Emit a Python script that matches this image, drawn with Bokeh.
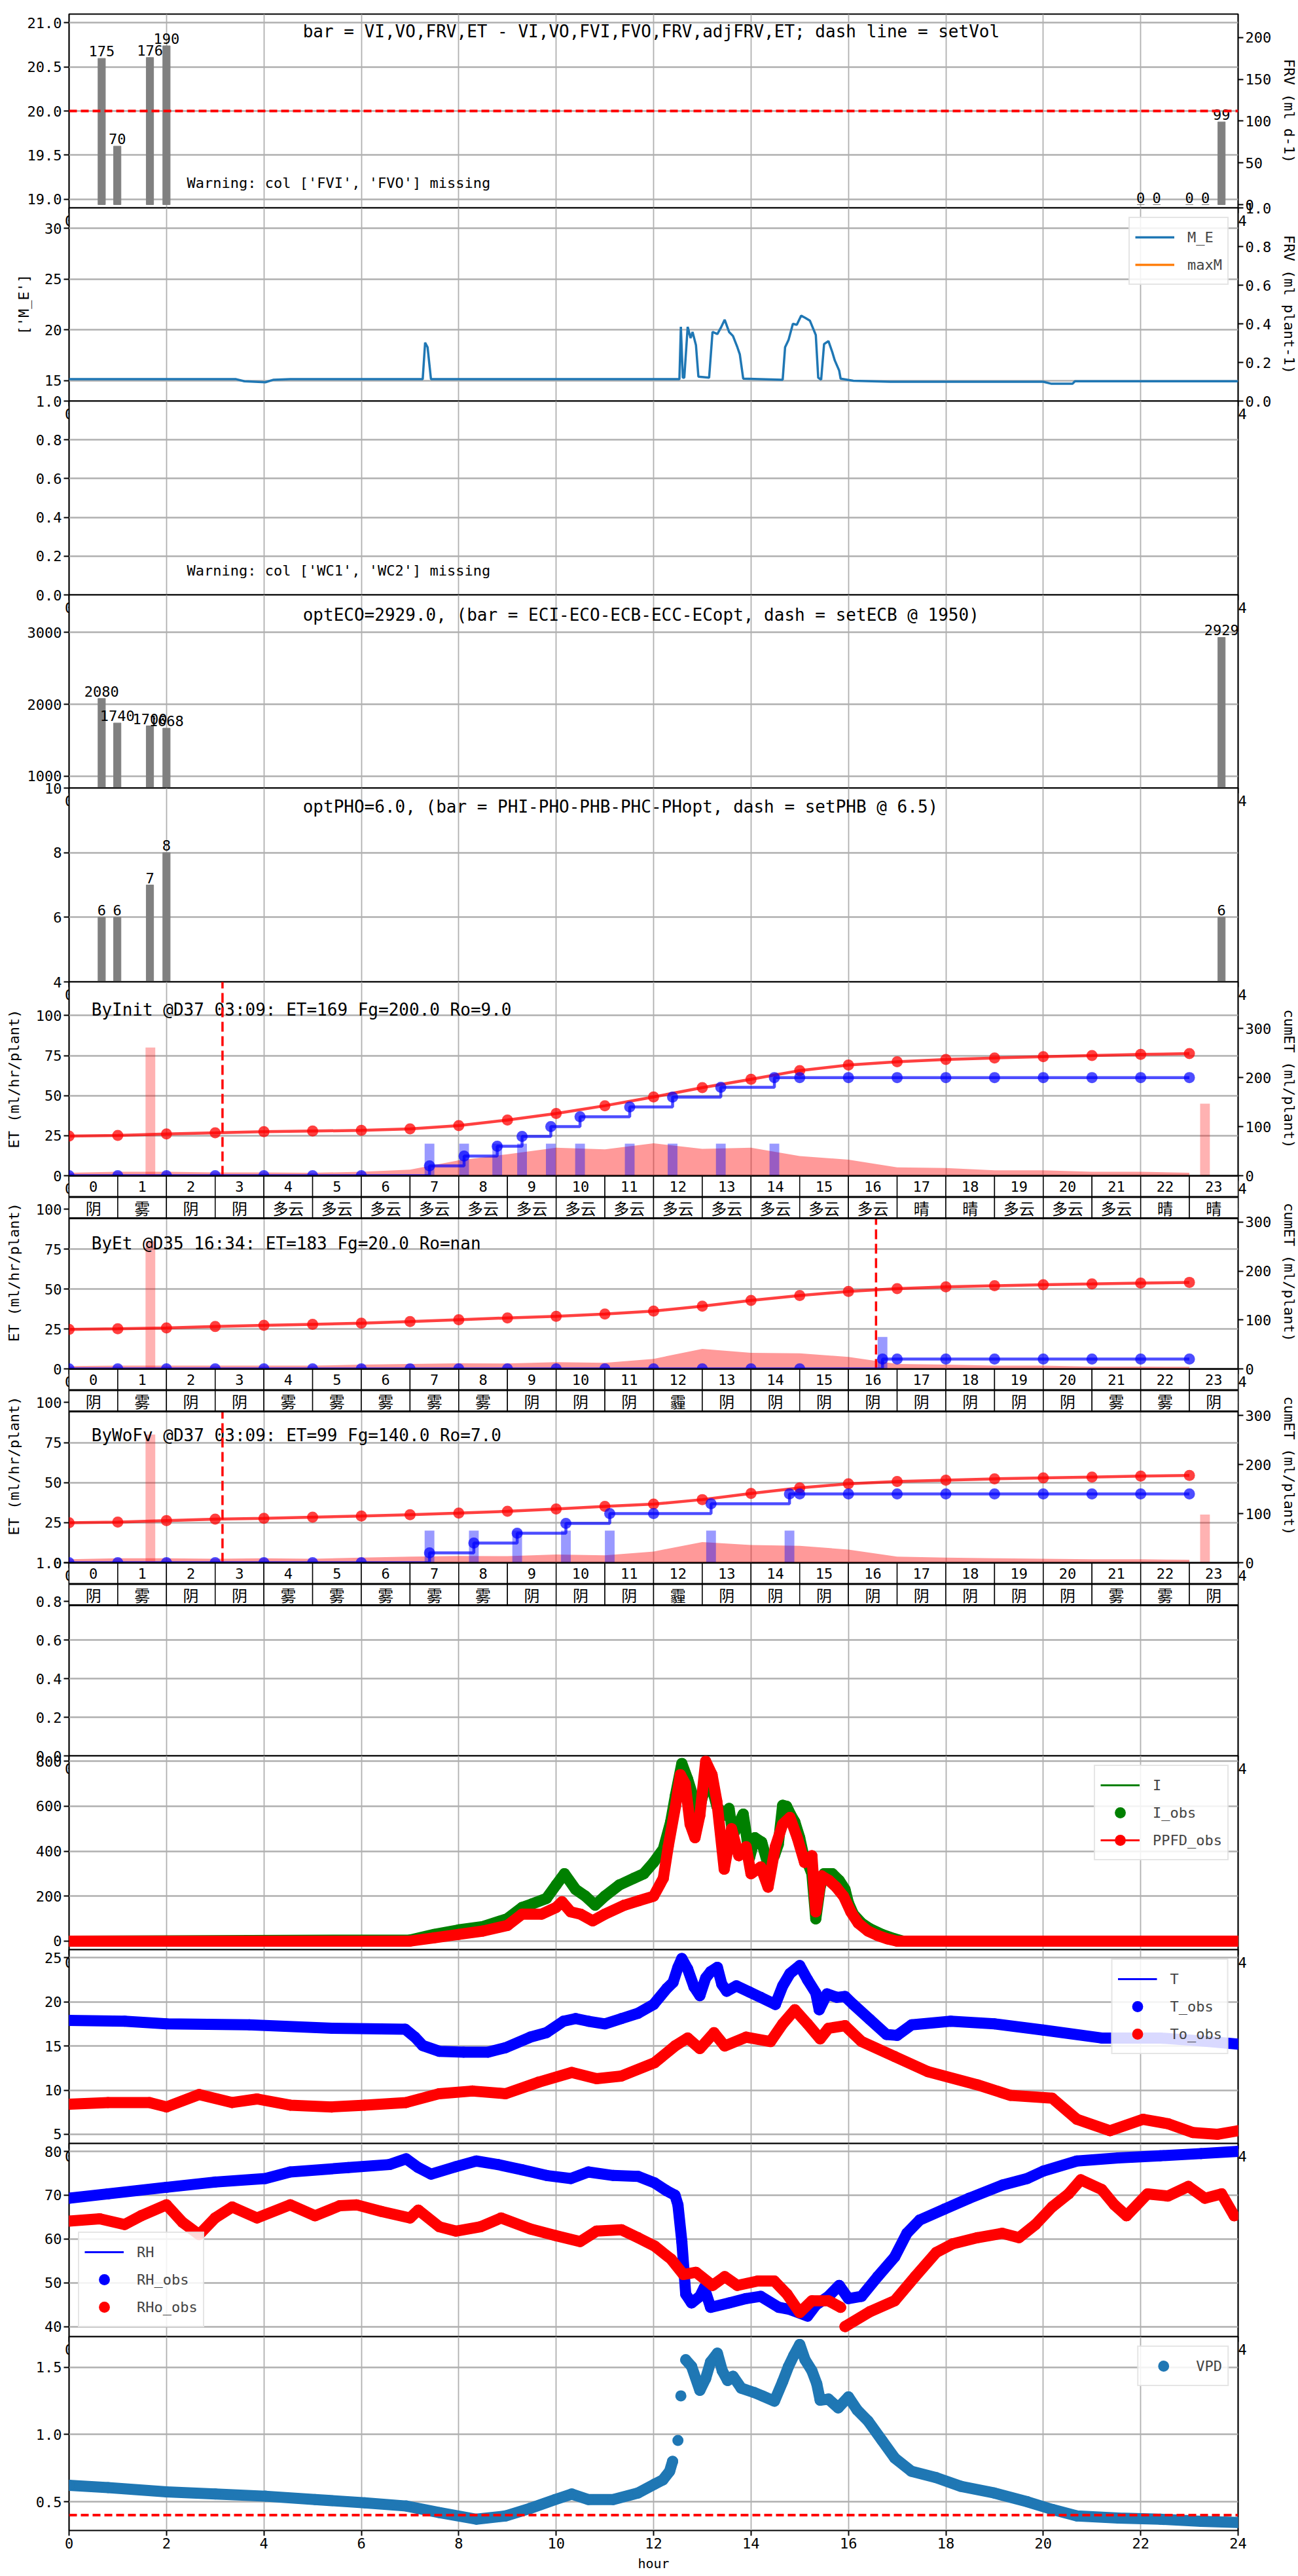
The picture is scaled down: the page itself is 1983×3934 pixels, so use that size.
import math
from bokeh.plotting import figure
from bokeh.models import (Range1d, LinearAxis, FixedTicker, Span, Legend, LegendItem,
                          PrintfTickFormatter)
from bokeh.layouts import column
from bokeh.embed import file_html
from bokeh.resources import INLINE
from bokeh.core.properties import value

NAN = float("nan")
MONO = "DejaVu Sans Mono"
CJK = "Noto Sans CJK SC"
TICK_FS = "22px"
NOTE_FS = "26px"

# ------------------------------------------------------------------ data
HOURS = list(range(24))

# panel 0 : FRV bars
FRV_T = [0.67, 0.99, 1.66, 2.0, 22.0, 22.33, 23.0, 23.33, 23.66]
FRV_VAL = [175, 70, 176, 190, 0, 0, 0, 0, 99]
SET_VOL = 20.0
TITLE_FRV = "bar = VI,VO,FRV,ET - VI,VO,FVI,FVO,FRV,adjFRV,ET; dash line = setVol"
WARN_FRV = "Warning: col ['FVI', 'FVO'] missing"

# panel 1 : M_E
ME_POINTS = [(0, 15.15), (3.43, 15.15), (3.6, 14.95), (4.03, 14.85), (4.2, 15.1), (4.54, 15.15),
             (7.26, 15.15), (7.31, 18.75), (7.36, 18.3), (7.43, 15.15), (12.53, 15.15),
             (12.56, 20.3), (12.6, 15.3), (12.63, 15.3), (12.7, 20.3), (12.76, 19.2),
             (12.8, 19.8), (12.87, 18.5), (12.92, 15.4), (13.14, 15.3), (13.21, 19.8),
             (13.31, 19.6), (13.38, 20.2), (13.46, 21.0), (13.55, 19.8), (13.63, 19.4),
             (13.72, 18.3), (13.77, 17.6), (13.84, 15.2), (14.65, 15.1), (14.7, 18.3),
             (14.77, 19.0), (14.86, 20.6), (14.94, 20.5), (15.03, 21.4), (15.11, 21.2),
             (15.21, 20.9), (15.33, 19.5), (15.38, 15.3), (15.44, 15.1), (15.5, 18.6),
             (15.59, 18.9), (15.67, 17.8), (15.72, 17.0), (15.81, 16.0), (15.84, 15.2),
             (16.1, 15.0), (16.86, 14.9), (20.0, 14.9), (20.17, 14.7), (20.6, 14.7),
             (20.65, 14.95), (24.0, 14.95)]
MAXM_POINTS = [(0, NAN), (24, NAN)]

# panel 2 : WC
WARN_WC = "Warning: col ['WC1', 'WC2'] missing"

# panel 3 : EC
EC_T = [0.67, 0.99, 1.66, 2.0, 23.66]
EC_VAL = [2080, 1740, 1700, 1668, 2929]
TITLE_EC = "optECO=2929.0, (bar = ECI-ECO-ECB-ECC-ECopt, dash = setECB @ 1950)"

# panel 4 : PH
PH_T = [0.67, 0.99, 1.66, 2.0, 23.66]
PH_VAL = [6, 6, 7, 8, 6]
TITLE_PH = "optPHO=6.0, (bar = PHI-PHO-PHB-PHC-PHopt, dash = setPHB @ 6.5)"

# panels 5-7 : ET simulations
IRR_VOL = 20
NOTE_INIT = "ByInit @D37 03:09: ET=169 Fg=200.0 Ro=9.0"
CUT_INIT = 3.15
ET_INIT = [1.8, 2.5, 2.5, 2.0, 2.0, 1.8, 2.5, 3.8, 9.6, 13.4, 17.5, 16.5, 20.2, 16.8, 17.5,
           12.3, 10.0, 5.2, 4.8, 3.4, 3.4, 2.5, 2.5, 1.8]
CUM_INIT = [80.7, 82.1, 85.2, 87.4, 89.7, 91.0, 92.4, 95.5, 102.2, 113.5, 126.9, 142.6,
            160.5, 179.4, 196.4, 214.3, 225.6, 232.3, 236.8, 239.9, 242.6, 244.8, 247.1, 248.9]
IRR_INIT = [7.40, 8.11, 8.79, 9.30, 9.89, 10.49, 11.51, 12.39, 13.38, 14.48]
FG_INIT_T = [1.67, 23.32]
FG_INIT_V = [80, 45]
W_INIT = ["阴", "雾", "阴", "阴", "多云", "多云", "多云", "多云", "多云", "多云", "多云", "多云",
          "多云", "多云", "多云", "多云", "多云", "晴", "晴", "多云", "多云", "多云", "晴", "晴"]

NOTE_ET = "ByEt @D35 16:34: ET=183 Fg=20.0 Ro=nan"
CUT_ET = 16.567
ET_ET = [1.7, 2.1, 2.1, 2.0, 2.1, 2.0, 2.7, 3.1, 3.5, 3.4, 4.2, 3.8, 6.3, 12.5, 10.1, 9.7,
         7.5, 3.1, 2.7, 2.1, 2.0, 1.4, 1.4, 1.3]
CUM_ET = [80.6, 81.9, 83.8, 86.6, 88.9, 91.2, 93.5, 96.8, 100.5, 104.2, 107.4, 112.0, 118.1,
          128.2, 139.8, 150.0, 158.3, 163.9, 167.6, 169.9, 172.2, 173.6, 175.5, 176.9]
IRR_ET = [16.70]
FG_ET_T = [1.67]
FG_ET_V = [80]
W_ET = ["阴", "雾", "阴", "阴", "雾", "雾", "雾", "雾", "雾", "阴", "阴", "阴",
        "霾", "阴", "阴", "阴", "阴", "阴", "阴", "阴", "阴", "雾", "雾", "阴"]

NOTE_WOFV = "ByWoFv @D37 03:09: ET=99 Fg=140.0 Ro=7.0"
CUT_WOFV = 3.15
ET_WOFV = [2.1, 2.8, 2.8, 2.5, 2.8, 2.5, 3.2, 3.8, 4.2, 4.1, 5.1, 4.6, 7.0, 12.9, 11.0, 10.5,
           8.2, 3.8, 3.2, 2.8, 2.5, 2.1, 2.1, 1.8]
CUM_WOFV = [81.3, 82.7, 85.9, 88.7, 90.5, 92.8, 95.1, 97.8, 101.1, 104.7, 109.3, 114.8, 119.4,
            128.6, 141.0, 152.5, 160.8, 165.4, 168.1, 170.9, 172.7, 174.6, 176.4, 177.8]
IRR_WOFV = [7.40, 8.31, 9.20, 10.20, 11.10, 13.18, 14.79]
FG_WOFV_T = [1.67, 23.32]
FG_WOFV_V = [80, 30]
W_WOFV = ["阴", "雾", "阴", "阴", "雾", "雾", "雾", "雾", "雾", "阴", "阴", "阴",
          "霾", "阴", "阴", "阴", "阴", "阴", "阴", "阴", "阴", "雾", "雾", "阴"]

# panel 9 : light
I_OBS = [(0, 0), (7.0, 5), (7.5, 30), (8.0, 50), (8.5, 65), (9.0, 100), (9.3, 150), (9.5, 165),
         (9.8, 190), (10.0, 250), (10.17, 300), (10.4, 230), (10.6, 200), (10.8, 160),
         (11.0, 200), (11.3, 250), (11.6, 280), (11.8, 300), (12.0, 350), (12.2, 410),
         (12.35, 530), (12.45, 650), (12.58, 790), (12.7, 720), (12.8, 650), (12.9, 550),
         (13.0, 640), (13.1, 700), (13.2, 680), (13.3, 600), (13.45, 560), (13.55, 590),
         (13.63, 470), (13.72, 510), (13.84, 565), (13.92, 450), (13.97, 371), (14.08, 460),
         (14.22, 440), (14.35, 340), (14.48, 380), (14.56, 430), (14.65, 604), (14.73, 600),
         (14.82, 560), (14.9, 530), (15.0, 460), (15.08, 380), (15.16, 350), (15.25, 300),
         (15.33, 99), (15.42, 240), (15.5, 300), (15.67, 300), (15.81, 270), (15.93, 230),
         (16.0, 170), (16.1, 120), (16.27, 80), (16.44, 55), (16.69, 30), (16.95, 10),
         (17.12, 0), (24.0, 0)]
PPFD_OBS = [(0, 0), (7.0, 0), (7.5, 15), (8.0, 30), (8.5, 45), (9.0, 70), (9.3, 120),
            (9.7, 120), (10.0, 150), (10.12, 175), (10.3, 130), (10.5, 120), (10.75, 90),
            (11.0, 120), (11.4, 160), (11.7, 180), (12.0, 200), (12.2, 280), (12.3, 420),
            (12.45, 600), (12.55, 740), (12.65, 700), (12.75, 520), (12.85, 460),
            (12.95, 560), (13.07, 800), (13.2, 740), (13.3, 620), (13.45, 320), (13.6, 500),
            (13.75, 380), (13.9, 420), (14.0, 300), (14.2, 330), (14.35, 240), (14.5, 420),
            (14.65, 520), (14.8, 550), (14.95, 460), (15.1, 350), (15.25, 380), (15.33, 130),
            (15.45, 290), (15.6, 270), (15.75, 240), (15.9, 200), (16.05, 130), (16.2, 80),
            (16.4, 45), (16.6, 25), (16.8, 10), (17.0, 0), (24.0, 0)]

# panel 10 : temperature
T_OBS = [(0, 17.9), (1.14, 17.8), (2.0, 17.5), (3.7, 17.4), (5.4, 17.0), (6.9, 16.9),
         (7.1, 16.0), (7.26, 15.05), (7.6, 14.4), (8.1, 14.3), (8.6, 14.3), (8.96, 14.8),
         (9.47, 16.0), (9.8, 16.5), (10.15, 17.8), (10.4, 18.1), (10.66, 17.8), (11.0, 17.5),
         (11.34, 18.1), (11.68, 18.7), (12.0, 19.7), (12.27, 21.5), (12.4, 22.2), (12.5, 23.9),
         (12.58, 24.9), (12.7, 23.7), (12.83, 21.7), (12.95, 20.7), (13.07, 22.7),
         (13.17, 23.4), (13.31, 23.9), (13.4, 22.0), (13.5, 21.2), (13.7, 21.8),
         (13.97, 21.1), (14.2, 20.5), (14.5, 19.7), (14.65, 21.8), (14.8, 23.2), (15.0, 24.1),
         (15.16, 22.5), (15.33, 21.0), (15.4, 19.1), (15.56, 20.9), (15.76, 20.5),
         (15.93, 20.6), (16.1, 19.7), (16.44, 18.0), (16.78, 16.3), (17.0, 16.2),
         (17.3, 17.4), (18.1, 17.8), (19.0, 17.5), (20.0, 16.8), (21.2, 15.9), (22.4, 15.9),
         (23.4, 15.5), (24.0, 15.2)]
TO_OBS = [(0, 8.4), (0.8, 8.6), (1.65, 8.6), (2.0, 8.1), (2.67, 9.5), (3.35, 8.6), (3.86, 9.0),
          (4.54, 8.3), (5.39, 8.1), (6.07, 8.3), (6.92, 8.6), (7.6, 9.6), (8.28, 9.9),
          (8.96, 9.6), (9.64, 10.9), (10.32, 12.0), (10.83, 11.3), (11.34, 11.6),
          (12.02, 13.1), (12.44, 15.0), (12.7, 15.9), (12.95, 14.7), (13.24, 16.5),
          (13.46, 15.0), (13.9, 16.0), (14.4, 15.5), (14.65, 17.5), (14.9, 19.1),
          (15.16, 17.5), (15.42, 15.8), (15.59, 17.0), (15.93, 17.3), (16.27, 15.5),
          (16.95, 13.8), (17.63, 12.1), (18.65, 10.6), (19.33, 9.4), (20.18, 9.1),
          (20.69, 6.7), (21.37, 5.4), (22.05, 6.7), (22.56, 6.2), (23.07, 5.2), (23.58, 5.0),
          (24.0, 5.4)]

# panel 11 : humidity
RH_OBS = [(0, 69.3), (0.8, 70.3), (2.0, 71.8), (3.0, 73.0), (4.03, 73.8), (4.54, 75.3),
          (5.73, 76.3), (6.58, 77.0), (6.92, 78.3), (7.17, 76.3), (7.43, 74.8), (7.94, 76.5),
          (8.36, 77.8), (8.8, 77.0), (9.3, 75.8), (9.8, 74.5), (10.3, 73.8), (10.66, 75.3),
          (11.17, 74.5), (11.68, 74.3), (12.02, 72.8), (12.27, 71.0), (12.44, 70.0),
          (12.5, 67.8), (12.58, 59.4), (12.66, 47.4), (12.78, 45.4), (12.95, 46.9),
          (13.04, 48.9), (13.17, 44.4), (13.55, 45.4), (13.9, 46.4), (14.2, 46.9),
          (14.57, 44.4), (14.8, 43.9), (15.16, 42.4), (15.33, 44.9), (15.59, 46.9),
          (15.81, 49.4), (16.0, 46.4), (16.27, 46.9), (16.6, 51.4), (16.95, 55.9),
          (17.2, 61.3), (17.46, 64.3), (17.97, 66.8), (18.48, 69.3), (19.16, 72.3),
          (19.67, 73.8), (20.0, 75.5), (20.69, 77.8), (21.54, 78.5), (22.4, 79.0),
          (23.24, 79.5), (24.0, 80.0)]
RHO_OBS = [(0, 64.1), (0.63, 64.6), (1.14, 63.3), (1.48, 65.3), (2.0, 67.8), (2.33, 63.8),
           (2.67, 61.0), (3.0, 64.8), (3.35, 67.3), (3.86, 64.8), (4.54, 67.8), (5.05, 65.3),
           (5.56, 67.6), (5.9, 67.8), (6.41, 66.3), (7.0, 64.8), (7.17, 66.6), (7.6, 62.8),
           (7.94, 61.8), (8.45, 62.8), (8.87, 64.8), (9.47, 62.3), (9.98, 60.8),
           (10.49, 59.4), (10.83, 61.8), (11.34, 62.1), (11.68, 60.3), (12.02, 58.4),
           (12.36, 55.4), (12.61, 51.9), (12.87, 52.4), (13.21, 49.4), (13.46, 51.4),
           (13.72, 49.4), (14.14, 50.4), (14.48, 50.4), (14.74, 47.4), (15.0, 43.2),
           (15.25, 45.9), (15.59, 45.9), (15.84, 44.4), (15.88, NAN), (15.93, 40.0),
           (16.44, 43.4), (16.95, 45.9), (17.37, 51.4), (17.8, 56.9), (18.14, 58.9),
           (18.65, 60.3), (19.16, 61.3), (19.5, 60.3), (19.84, 63.3), (20.18, 67.3),
           (20.52, 70.3), (20.77, 73.5), (21.2, 71.3), (21.46, 67.8), (21.71, 65.3),
           (22.14, 70.3), (22.56, 69.8), (22.98, 72.0), (23.32, 69.3), (23.66, 70.3),
           (23.92, 65.3)]

# panel 12 : VPD
VPD_MIN = 0.4
VPD_OBS = [(0, 0.622), (0.8, 0.605), (2.0, 0.573), (3.0, 0.557), (4.03, 0.541), (5.05, 0.516),
           (6.07, 0.492), (6.92, 0.468), (7.6, 0.419), (8.36, 0.370), (8.96, 0.394),
           (9.47, 0.451), (9.98, 0.516), (10.32, 0.557), (10.66, 0.516), (11.17, 0.516),
           (11.68, 0.565), (12.02, 0.630), (12.19, 0.662), (12.33, 0.727), (12.39, 0.800),
           (12.45, NAN), (12.5, 0.955), (12.53, NAN), (12.56, 1.287), (12.6, NAN),
           (12.66, 1.555), (12.78, 1.506), (12.95, 1.328), (13.07, 1.417), (13.17, 1.539),
           (13.31, 1.604), (13.41, 1.474), (13.52, 1.401), (13.63, 1.433), (13.8, 1.344),
           (14.06, 1.312), (14.23, 1.287), (14.48, 1.247), (14.65, 1.393), (14.77, 1.506),
           (14.88, 1.588), (15.0, 1.669), (15.11, 1.555), (15.25, 1.474), (15.35, 1.377),
           (15.42, 1.255), (15.59, 1.263), (15.79, 1.198), (16.0, 1.279), (16.18, 1.182),
           (16.4, 1.101), (16.69, 0.955), (16.95, 0.825), (17.29, 0.727), (17.8, 0.679),
           (18.31, 0.614), (18.99, 0.565), (19.67, 0.500), (20.18, 0.443), (20.69, 0.394),
           (21.54, 0.378), (22.4, 0.370), (23.24, 0.354), (24.0, 0.346)]

X_TICKS = list(range(0, 25, 2))

# ------------------------------------------------------------------ layout
FW = 1786
FH = [296, 295, 296, 295, 296, 296, 295, 296, 295, 296, 296, 295, 296]
BL, BR, BT, BB = 105, 92, 40, 70
FIRST_TOP = 21
ROW_H = 32.5


def xy(points):
    return [a for a, _ in points], [b for _, b in points]


def style_axis(ax):
    ax.axis_line_color = None
    ax.major_tick_out = 8
    ax.major_tick_in = 0
    ax.major_tick_line_color = "black"
    ax.major_tick_line_width = 2
    ax.minor_tick_line_color = None
    ax.major_label_text_font = MONO
    ax.major_label_text_font_size = TICK_FS
    ax.major_label_text_color = "black"
    ax.major_label_standoff = 3
    ax.axis_label_text_font = MONO
    ax.axis_label_text_font_size = TICK_FS
    ax.axis_label_text_font_style = "normal"
    ax.axis_label_text_color = "black"


def base(k, y0, y1, yticks, fmt, ylabel=None, standoff=16):
    last = k == len(FH) - 1
    p = figure(frame_width=FW, frame_height=FH[k], x_range=Range1d(0, 24),
               y_range=Range1d(y0, y1), output_backend="svg", toolbar_location=None,
               min_border_left=BL, min_border_right=BR,
               min_border_top=FIRST_TOP if k == 0 else BT,
               min_border_bottom=BB,
               margin=(0, 0, 0, 0) if k == 0 else (-(BB + BT), 0, 0, 0))
    p.border_fill_color = None
    p.background_fill_color = "white"
    p.outline_line_color = "black"
    p.outline_line_width = 2.2
    xa = p.xaxis[0]
    ya = p.yaxis[0]
    xa.ticker = FixedTicker(ticks=X_TICKS)
    ya.ticker = FixedTicker(ticks=yticks)
    xa.formatter = PrintfTickFormatter(format="%d")
    ya.formatter = PrintfTickFormatter(format=fmt)
    style_axis(xa)
    style_axis(ya)
    if ylabel:
        ya.axis_label = ylabel
        ya.axis_label_standoff = standoff
    if last:
        xa.axis_label = "hour"
        xa.axis_label_standoff = 8
        xa.axis_label_text_font_size = "20px"
    p.xgrid.ticker = FixedTicker(ticks=X_TICKS)
    p.ygrid.ticker = FixedTicker(ticks=yticks)
    p.xgrid.grid_line_color = "#b0b0b0"
    p.xgrid.grid_line_width = 1.8
    p.ygrid.grid_line_color = "#b0b0b0"
    p.ygrid.grid_line_width = 2.4
    return p


def add_right(p, y0, y1, ticks, fmt, label):
    rngs = dict(p.extra_y_ranges)
    rngs["r"] = Range1d(y0, y1)
    p.extra_y_ranges = rngs
    ax = LinearAxis(y_range_name="r", ticker=FixedTicker(ticks=ticks),
                    formatter=PrintfTickFormatter(format=fmt), axis_label=label)
    style_axis(ax)
    ax.axis_label_standoff = 12
    p.add_layout(ax, "right")


def note(p, x, y, txt, size=NOTE_FS, rng="default"):
    p.text(x=[x], y=[y], text=[txt], text_font=value(MONO), text_font_size=size,
           text_align="left", text_baseline="middle", text_color="black", y_range_name=rng)


def bar_labels(p, xs, vals, rng="default"):
    p.text(x=xs, y=vals, text=[str(v) for v in vals], text_font=value(MONO),
           text_font_size=TICK_FS, text_align="center", text_baseline="bottom",
           y_offset=-3, text_color="black", y_range_name=rng)


def make_legend(p, items, loc):
    lg = Legend(items=items, location=loc)
    lg.label_text_font = MONO
    lg.label_text_font_size = TICK_FS
    lg.border_line_color = "#cccccc"
    lg.border_line_width = 2
    lg.background_fill_color = "white"
    lg.background_fill_alpha = 0.85
    lg.glyph_width = 60
    lg.glyph_height = 42
    lg.label_height = 28
    lg.spacing = -6
    lg.padding = 8
    lg.margin = 14
    lg.label_standoff = 20
    p.add_layout(lg)


def add_table(p, k, weather):
    rngs = dict(p.extra_y_ranges)
    rngs["tbl"] = Range1d(FH[k], 0)
    p.extra_y_ranges = rngs
    left = HOURS
    right = [h + 1 for h in HOURS]
    n = len(HOURS)
    p.quad(left=left, right=right, top=[0] * n, bottom=[ROW_H] * n, y_range_name="tbl",
           fill_color="white", line_color="black", line_width=1.5)
    p.quad(left=left, right=right, top=[ROW_H] * n, bottom=[2 * ROW_H] * n, y_range_name="tbl",
           fill_color="white", line_color="black", line_width=1.5)
    p.segment(x0=[0, 0, 0], x1=[24, 24, 24], y0=[0, ROW_H, 2 * ROW_H],
              y1=[0, ROW_H, 2 * ROW_H], y_range_name="tbl", line_color="black", line_width=3)
    mid = [h + 0.5 for h in HOURS]
    p.text(x=mid, y=[ROW_H / 2] * n, text=[str(h) for h in HOURS], y_range_name="tbl",
           text_align="center", text_baseline="middle", text_font=value(MONO),
           text_font_size=TICK_FS, text_color="black")
    p.text(x=mid, y=[ROW_H * 1.5] * n, text=weather, y_range_name="tbl",
           text_align="center", text_baseline="middle", text_font=value(CJK),
           text_font_size="24px", text_color="black")


def cum_points(events):
    ev_hours = {int(e) for e in events}
    pts = sorted([float(h) for h in HOURS if h not in ev_hours] + list(events))
    ys = [IRR_VOL * sum(1 for e in events if e <= t + 1e-9) for t in pts]
    return pts, ys


def et_panel(k, note_txt, cut, et, cum, irr, fg_t, fg_v, note_y):
    p = base(k, 0, 121, [0, 25, 50, 75, 100], "%d", "ET (ml/hr/plant)", 18)
    add_right(p, 0, 395, [0, 100, 200, 300], "%d", "cumET (ml/plant)")
    p.vbar(x=fg_t, top=fg_v, bottom=0, width=0.2, fill_color="#ff0000", fill_alpha=0.3,
           line_color=None)
    p.varea(x=HOURS, y1=[0] * len(HOURS), y2=et, fill_color="#ff0000", fill_alpha=0.4)
    p.vbar(x=irr, top=[IRR_VOL] * len(irr), bottom=0, width=0.2, fill_color="#0000ff",
           fill_alpha=0.4, line_color=None)
    note(p, 0.46, note_y, note_txt)
    p.segment(x0=[cut], x1=[cut], y0=[p.y_range.start], y1=[p.y_range.end],
              line_color="#ff0000", line_width=3.5, line_dash="15 7")
    p.line(x=HOURS, y=cum, y_range_name="r", line_color="#ff0000", line_alpha=0.75,
           line_width=4.5)
    p.scatter(x=HOURS, y=cum, y_range_name="r", size=17, fill_color="#ff0000",
              fill_alpha=0.75, line_color=None)
    bx, by = cum_points(irr)
    p.step(x=bx, y=by, mode="after", y_range_name="r", line_color="#0000ff", line_alpha=0.7,
           line_width=4.5)
    p.scatter(x=bx, y=by, y_range_name="r", size=17, fill_color="#0000ff", fill_alpha=0.7,
              line_color=None)
    return p


figs = []

# ---- panel 0
p0 = base(0, 18.9, 21.1, [19.0, 19.5, 20.0, 20.5, 21.0], "%.1f")
add_right(p0, -3.9, 228, [0, 50, 100, 150, 200], "%d", "FRV (ml d-1)")
p0.vbar(x=FRV_T, top=FRV_VAL, bottom=0, width=0.15, y_range_name="r", color="#808080")
bar_labels(p0, FRV_T, FRV_VAL, "r")
p0.add_layout(Span(location=SET_VOL, dimension="width", line_color="#ff0000", line_width=4,
                   line_dash="12 6"))
note(p0, 4.8, 20.9, TITLE_FRV)
note(p0, 2.42, 19.18, WARN_FRV, size=TICK_FS)
figs.append(p0)

# ---- panel 1
p1 = base(1, 13.0, 32.0, [15, 20, 25, 30], "%d", "['M_E']", 16)
add_right(p1, 0, 1.0, [0, 0.2, 0.4, 0.6, 0.8, 1.0], "%.1f", "FRV (ml plant-1)")
mx, my = xy(ME_POINTS)
ax_, ay_ = xy(MAXM_POINTS)
r_me = p1.line(x=mx, y=my, line_color="#1f77b4", line_width=3.5)
r_max = p1.line(x=ax_, y=ay_, line_color="#ff7f0e", line_width=3.5)
make_legend(p1, [LegendItem(label="M_E", renderers=[r_me]),
                 LegendItem(label="maxM", renderers=[r_max])], "top_right")
figs.append(p1)

# ---- panel 2
p2 = base(2, 0, 1, [0, 0.2, 0.4, 0.6, 0.8, 1.0], "%.1f")
note(p2, 2.42, 0.125, WARN_WC, size=TICK_FS)
figs.append(p2)

# ---- panel 3
p3 = base(3, 836, 3520, [1000, 2000, 3000], "%d")
p3.vbar(x=EC_T, top=EC_VAL, bottom=0, width=0.15, color="#808080")
bar_labels(p3, EC_T, EC_VAL)
note(p3, 4.8, 3245, TITLE_EC)
figs.append(p3)

# ---- panel 4
p4 = base(4, 4, 10, [4, 6, 8, 10], "%d")
p4.vbar(x=PH_T, top=PH_VAL, bottom=0, width=0.15, color="#808080")
bar_labels(p4, PH_T, PH_VAL)
note(p4, 4.8, 9.42, TITLE_PH)
figs.append(p4)

# ---- panels 5-7
p5 = et_panel(5, NOTE_INIT, CUT_INIT, ET_INIT, CUM_INIT, IRR_INIT, FG_INIT_T, FG_INIT_V, 103.5)
figs.append(p5)
p6 = et_panel(6, NOTE_ET, CUT_ET, ET_ET, CUM_ET, IRR_ET, FG_ET_T, FG_ET_V, 78.7)
add_table(p6, 6, W_INIT)
figs.append(p6)
p7 = et_panel(7, NOTE_WOFV, CUT_WOFV, ET_WOFV, CUM_WOFV, IRR_WOFV, FG_WOFV_T, FG_WOFV_V, 79.5)
add_table(p7, 7, W_ET)
figs.append(p7)

# ---- panel 8
p8 = base(8, 0, 1, [0, 0.2, 0.4, 0.6, 0.8, 1.0], "%.1f")
add_table(p8, 8, W_WOFV)
figs.append(p8)

# ---- panel 9
p9 = base(9, -38, 824, [0, 200, 400, 600, 800], "%d")
ix, iy = xy(I_OBS)
px_, py_ = xy(PPFD_OBS)
p9.line(x=ix, y=iy, line_color="#008000", line_width=17, line_cap="round", line_join="round")
r_i = p9.line(x=ix, y=iy, line_color="#008000", line_width=3)
r_iobs = p9.scatter(x=ix, y=iy, size=17, fill_color="#008000", line_color=None)
p9.line(x=px_, y=py_, line_color="#ff0000", line_width=17, line_cap="round", line_join="round")
r_pl = p9.line(x=px_, y=py_, line_color="#ff0000", line_width=3)
r_ps = p9.scatter(x=px_, y=py_, size=17, fill_color="#ff0000", line_color=None)
make_legend(p9, [LegendItem(label="I", renderers=[r_i]),
                 LegendItem(label="I_obs", renderers=[r_iobs]),
                 LegendItem(label="PPFD_obs", renderers=[r_pl, r_ps])], "top_right")
figs.append(p9)

# ---- panel 10
p10 = base(10, 3.96, 25.9, [5, 10, 15, 20, 25], "%d")
tx, ty = xy(T_OBS)
ox, oy = xy(TO_OBS)
p10.line(x=tx, y=ty, line_color="#0000ff", line_width=17, line_cap="round", line_join="round")
r_t = p10.line(x=tx, y=ty, line_color="#0000ff", line_width=3)
r_tobs = p10.scatter(x=tx, y=ty, size=17, fill_color="#0000ff", line_color=None)
p10.line(x=ox, y=oy, line_color="#ff0000", line_width=17, line_cap="round", line_join="round")
r_toobs = p10.scatter(x=ox, y=oy, size=17, fill_color="#ff0000", line_color=None)
make_legend(p10, [LegendItem(label="T", renderers=[r_t]),
                  LegendItem(label="T_obs", renderers=[r_tobs]),
                  LegendItem(label="To_obs", renderers=[r_toobs])], "top_right")
figs.append(p10)

# ---- panel 11
p11 = base(11, 37.7, 81.8, [40, 50, 60, 70, 80], "%d")
hx, hy = xy(RH_OBS)
hox, hoy = xy(RHO_OBS)
p11.line(x=hx, y=hy, line_color="#0000ff", line_width=17, line_cap="round", line_join="round")
r_rh = p11.line(x=hx, y=hy, line_color="#0000ff", line_width=3)
r_rhobs = p11.scatter(x=hx, y=hy, size=17, fill_color="#0000ff", line_color=None)
p11.line(x=hox, y=hoy, line_color="#ff0000", line_width=17, line_cap="round", line_join="round")
r_rhoobs = p11.scatter(x=hox, y=hoy, size=17, fill_color="#ff0000", line_color=None)
make_legend(p11, [LegendItem(label="RH", renderers=[r_rh]),
                  LegendItem(label="RH_obs", renderers=[r_rhobs]),
                  LegendItem(label="RHo_obs", renderers=[r_rhoobs])], "bottom_left")
figs.append(p11)

# ---- panel 12
p12 = base(12, 0.286, 1.727, [0.5, 1.0, 1.5], "%.1f")
vx, vy = xy(VPD_OBS)
p12.line(x=vx, y=vy, line_color="#1f77b4", line_width=17, line_cap="round", line_join="round")
r_vpd = p12.scatter(x=vx, y=vy, size=17, fill_color="#1f77b4", line_color=None)
p12.add_layout(Span(location=VPD_MIN, dimension="width", line_color="#ff0000", line_width=4,
                    line_dash="12 6"))
make_legend(p12, [LegendItem(label="VPD", renderers=[r_vpd])], "top_right")
figs.append(p12)

layout = column(*figs, spacing=0)
open("out.html", "w").write(file_html(layout, INLINE))
